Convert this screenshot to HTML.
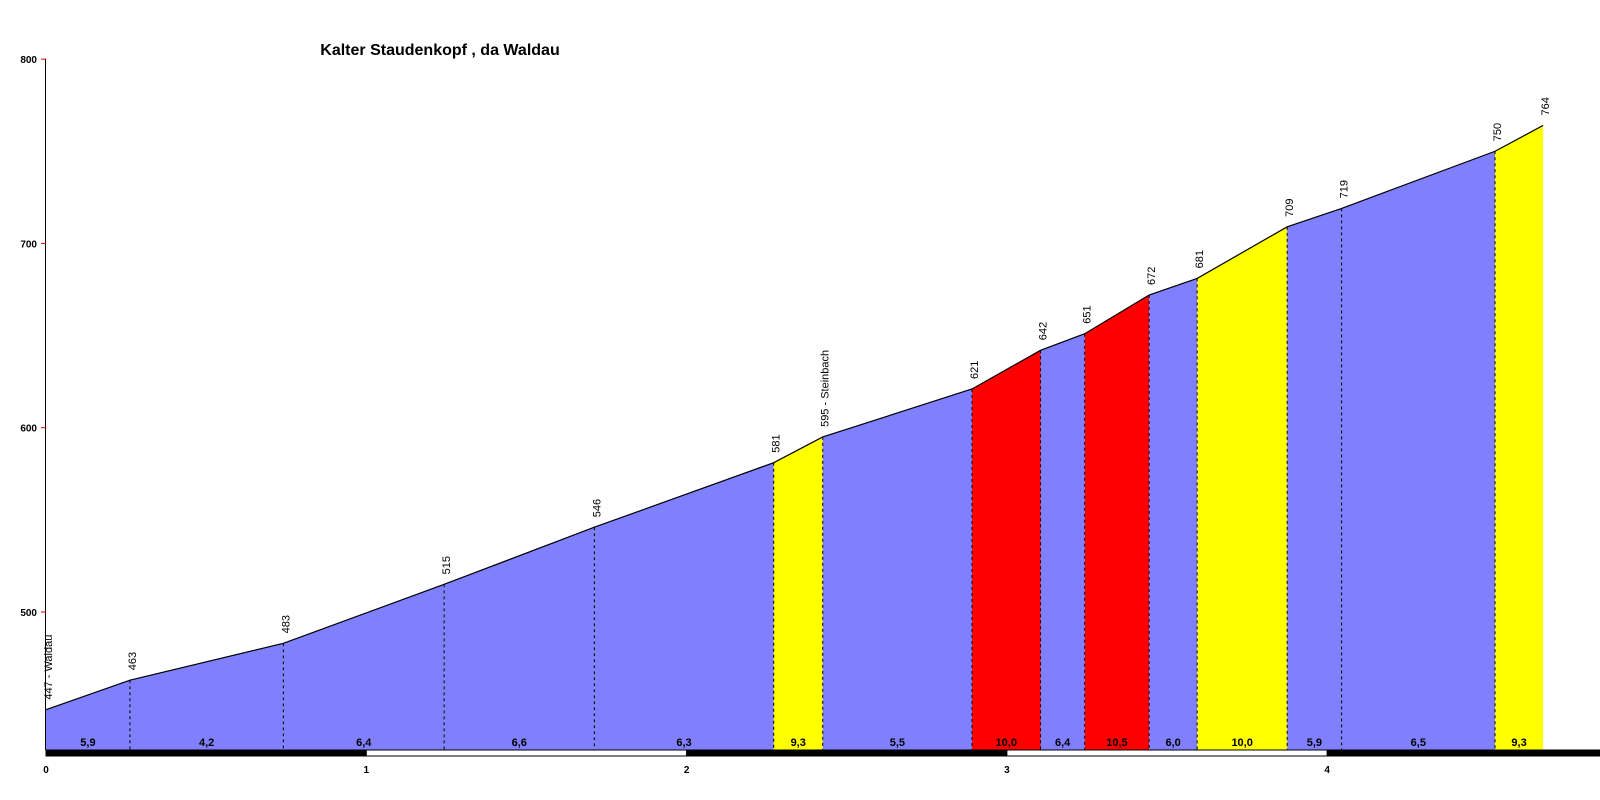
<!DOCTYPE html>
<html><head><meta charset="utf-8"><style>
html,body{margin:0;padding:0;background:#fff;}
svg{display:block;font-family:"Liberation Sans",Arial,sans-serif;}
</style></head><body>
<svg id="chart" width="1600" height="800" viewBox="0 0 1600 800"></svg>
<script>
const distances = [0, 0.262, 0.741, 1.243, 1.712, 2.272, 2.425, 2.891, 3.105, 3.243, 3.444, 3.594, 3.875, 4.045, 4.524, 4.674];
const elevations = [447, 463, 483, 515, 546, 581, 595, 621, 642, 651, 672, 681, 709, 719, 750, 764];
const pointNames = ["447 - Waldau","463","483","515","546","581","595 - Steinbach","621","642","651","672","681","709","719","750","764"];
const gradientLabels = ["5,9","4,2","6,4","6,6","6,3","9,3","5,5","10,0","6,4","10,5","6,0","10,0","5,9","6,5","9,3"];
const gradientClass = ["b","b","b","b","b","y","b","r","b","r","b","y","b","b","y"];
const yTicks = [500, 600, 700, 800];
const xTicks = [0, 1, 2, 3, 4];

const NS = "http://www.w3.org/2000/svg";
const svg = document.getElementById("chart");
const X0 = 46, PXKM = 320.3, BASE = 750, Y500 = 612, PXM = 1.843;
const xs = d => X0 + d * PXKM;
const ys = e => Y500 - (e - 500) * PXM;
const fillOf = {b:"#8080ff", y:"#ffff00", r:"#ff0000"};
function mk(tag, attrs, parent){ const el=document.createElementNS(NS,tag); for(const k in attrs) el.setAttribute(k,attrs[k]); (parent||svg).appendChild(el); return el; }

// title
const title = mk("text",{x:440,y:55,"text-anchor":"middle","font-size":"16","font-weight":"bold",fill:"#000"});
title.textContent = "Kalter Staudenkopf , da Waldau";



// segments
for(let i=0;i<gradientLabels.length;i++){
  const x1=xs(distances[i]), x2=xs(distances[i+1]);
  const p = mk("polygon",{points:`${x1},${BASE} ${x1},${ys(elevations[i])} ${x2},${ys(elevations[i+1])} ${x2},${BASE}`, fill:fillOf[gradientClass[i]]});
  
  
  const t = mk("text",{x:(x1+x2)/2,y:746,"text-anchor":"middle","font-size":"11","font-weight":"bold",fill:"#000"});
  t.textContent = gradientLabels[i];
  
  
}
// profile outline
const pts = distances.map((d,i)=>`${xs(d)},${ys(elevations[i])}`).join(" ");
const outline = mk("polyline",{points:pts,fill:"none",stroke:"#000","stroke-width":"1.2"});



// dashed dividers & labels
for(let i=0;i<distances.length;i++){
  const x=xs(distances[i]), y=ys(elevations[i]);
  if(i>0 && i<distances.length-1){
    const l = mk("line",{x1:x,y1:y,x2:x,y2:BASE,stroke:"#000","stroke-width":"1","stroke-dasharray":"3,3"});
    
    
  }
  const lx = x + 6, ly = y - 10;
  const t = mk("text",{x:lx,y:ly,transform:`rotate(-90 ${lx} ${ly})`,"font-size":"11",fill:"#000"});
  t.textContent = pointNames[i];
  
  
}

// y axis
const yax = mk("line",{x1:45.5,y1:59,x2:45.5,y2:BASE,stroke:"#000","stroke-width":"1"});


yTicks.forEach(v=>{
  const y=ys(v);
  const tk = mk("line",{x1:41,y1:y,x2:46,y2:y,stroke:"#d00000","stroke-width":"1"});
  
  
  const t = mk("text",{x:37,y:y+4,"text-anchor":"end","font-size":"10","font-weight":"bold",fill:"#000"});
  t.textContent = v;
  
  
});

// x axis bar
for(let k=0;k<5;k++){
  const x1=xs(k), x2=Math.min(xs(k+1),1600);
  const r = mk("rect",{x:x1,y:BASE,width:x2-x1,height:6,fill:k%2===0?"#000":"#fff",stroke:"#000","stroke-width":"1"});
  
  
}
xTicks.forEach(v=>{
  const t = mk("text",{x:xs(v),y:773,"text-anchor":"middle","font-size":"10","font-weight":"bold",fill:"#000"});
  t.textContent = v;
  
  
});
</script>
</body></html>
